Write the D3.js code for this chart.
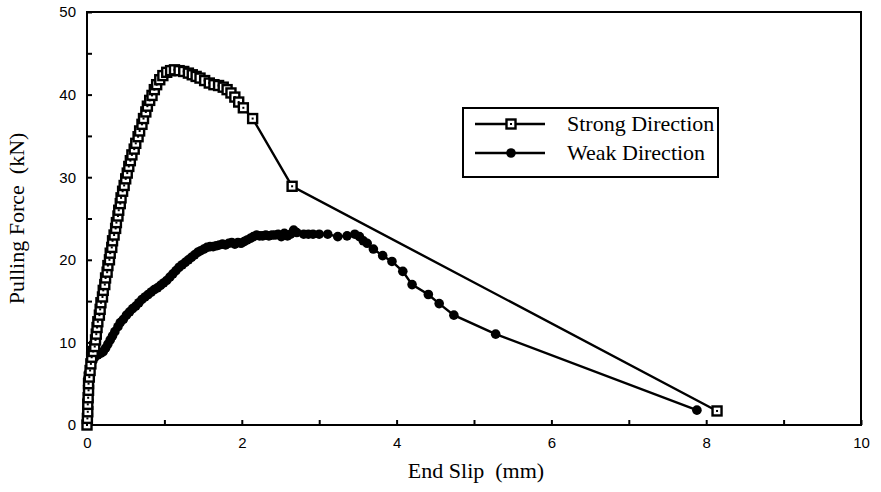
<!DOCTYPE html>
<html>
<head>
<meta charset="utf-8">
<script src="https://cdn.jsdelivr.net/npm/d3@7"></script>
<style>
  html, body { margin: 0; padding: 0; background: #fff; }
  svg { display: block; }
</style>
</head>
<body>
<div id="chart"></div>
<script>
// Pull-out test: pulling force vs end slip
const strongSlip = [0,0.005,0.01,0.01,0.015,0.02,0.02,0.03,0.04,0.05,0.06,0.08,
  0.10,0.11,0.12,0.13,0.14,0.16,0.17,0.18,0.20,0.21,0.23,0.24,0.26,0.27,0.29,0.30,0.32,0.33,0.35,0.37,0.38,0.40,0.41,0.43,0.44,0.46,0.48,0.50,0.52,0.54,0.56,0.58,0.61,0.63,0.66,0.68,0.71,0.73,0.76,0.78,0.81,0.84,0.87,0.90,0.94,0.98,1.03,1.08,1.13,1.19,1.25,1.31,1.36,1.41,1.46,1.52,1.58,1.64,1.70,1.76,1.81,1.86,1.91,1.96,2.02,2.14,2.65,8.14];
const strongForce = [0,0.8,1.6,2.5,3.3,4.2,5.0,5.8,6.6,7.4,8.2,8.9,
  9.5,10.3,11.0,11.8,12.5,13.3,14.0,14.8,15.5,16.3,17.0,17.8,18.5,19.3,20.0,20.8,21.5,22.3,23.0,23.8,24.5,25.3,26.0,26.8,27.5,28.3,29.0,29.8,30.5,31.3,32.0,32.7,33.4,34.1,34.9,35.6,36.4,37.1,37.9,38.6,39.3,39.9,40.6,41.2,41.8,42.3,42.7,42.9,43.0,42.9,42.8,42.6,42.4,42.2,42.0,41.7,41.4,41.2,41.1,40.9,40.6,40.2,39.7,39.1,38.4,37.1,28.9,1.7];

const weakSlip = [0,0,0,0.005,0.005,0.01,0.01,0.01,0.02,0.04,0.07,0.10,0.14,0.18,0.21,0.24,0.27,0.30,0.33,0.36,0.40,0.43,0.47,0.51,0.55,0.59,0.63,0.67,0.71,0.75,0.79,0.83,0.87,0.91,0.95,0.99,1.03,1.07,1.11,1.15,1.19,1.23,1.27,1.31,1.35,1.39,1.43,1.47,1.51,1.55,1.59,1.63,1.67,1.71,1.75,1.79,1.83,1.87,1.91,1.95,1.99,2.03,2.07,2.11,2.15,2.19,2.23,2.27,2.31,2.35,2.39,2.43,2.47,2.51,2.55,2.59,2.63,2.67,2.71,2.80,2.86,2.92,3.00,3.11,3.24,3.36,3.46,3.52,3.57,3.62,3.70,3.82,3.94,4.08,4.20,4.41,4.55,4.74,5.28,7.88];
const weakForce = [0,0.8,1.6,2.4,3.2,4.0,4.8,5.6,6.3,7.0,7.7,8.2,8.5,8.7,8.9,9.3,9.8,10.3,10.8,11.3,11.9,12.4,12.8,13.3,13.7,14.1,14.4,14.8,15.2,15.5,15.8,16.1,16.4,16.6,16.9,17.2,17.5,17.9,18.3,18.7,19.1,19.4,19.7,20.0,20.3,20.6,20.9,21.1,21.3,21.5,21.6,21.6,21.7,21.8,21.9,21.8,22.0,22.1,21.9,22.1,22.0,22.2,22.4,22.6,22.8,23.0,22.9,22.9,23.0,22.9,23.0,23.0,23.1,22.8,23.2,22.9,23.1,23.6,23.3,23.1,23.1,23.1,23.1,23.1,22.8,22.9,23.1,22.8,22.3,22.0,21.3,20.5,19.8,18.6,17.0,15.8,14.7,13.3,11.0,1.8];

const xTicks = [0,1,2,3,4,5,6,7,8,9,10];
const xLabels = [0,2,4,6,8,10];
const yTicks = [0,5,10,15,20,25,30,35,40,45,50];
const yLabels = [0,10,20,30,40,50];
const seriesNames = ["Strong Direction", "Weak Direction"];

const W = 881, H = 492;
const pLeft = 87, pRight = 861, pTop = 12, pBottom = 425;
const serif = "'Liberation Serif', 'Times New Roman', serif";
const sans = "'Liberation Sans', Arial, sans-serif";

const svg = d3.select("#chart").append("svg").attr("width", W).attr("height", H);

const x = d3.scaleLinear().domain([0, 10]).range([pLeft, pRight]);
const y = d3.scaleLinear().domain([0, 50]).range([pBottom, pTop]);

// plot frame
svg.append("rect").attr("x", pLeft).attr("y", pTop)
  .attr("width", pRight - pLeft).attr("height", pBottom - pTop)
  .attr("fill", "none").attr("stroke", "#000").attr("stroke-width", 2);

// axes with inward ticks
const xAxis = d3.axisBottom(x).tickValues(xTicks).tickSizeInner(-5).tickSizeOuter(0)
  .tickFormat(d => xLabels.includes(d) ? d : "");
const gx = svg.append("g").attr("transform", `translate(0,${pBottom})`).call(xAxis);
gx.select(".domain").remove();
gx.selectAll(".tick line").attr("stroke", "#000").attr("stroke-width", 2);
gx.selectAll(".tick text").attr("y", 12)
  .style("font-family", sans).style("font-size", "15px").attr("fill", "#000");

const yAxis = d3.axisLeft(y).tickValues(yTicks).tickSizeInner(-5).tickSizeOuter(0)
  .tickFormat(d => yLabels.includes(d) ? d : "");
const gy = svg.append("g").attr("transform", `translate(${pLeft},0)`).call(yAxis);
gy.select(".domain").remove();
gy.selectAll(".tick line").attr("stroke", "#000").attr("stroke-width", 2);
gy.selectAll(".tick text").attr("x", -11)
  .style("font-family", sans).style("font-size", "15px").attr("fill", "#000");

// axis titles
svg.append("text").attr("x", 476).attr("y", 478)
  .attr("text-anchor", "middle")
  .style("font-family", serif).style("font-size", "22px")
  .text("End Slip\u00a0 (mm)");
svg.append("text").attr("transform", `translate(24,${(pTop + pBottom) / 2}) rotate(-90)`)
  .attr("text-anchor", "middle")
  .style("font-family", serif).style("font-size", "22px")
  .text("Pulling Force\u00a0 (kN)");

const line = d3.line().x(d => x(d[0])).y(d => y(d[1]));
const strong = strongSlip.map((s, i) => [s, strongForce[i]]);
const weak = weakSlip.map((s, i) => [s, weakForce[i]]);

function squareMarker(g, cx, cy) {
  g.append("rect").attr("x", cx - 4.5).attr("y", cy - 4.5).attr("width", 9).attr("height", 9)
    .attr("fill", "#fff").attr("stroke", "#000").attr("stroke-width", 2.4);
  g.append("rect").attr("x", cx - 1).attr("y", cy - 1).attr("width", 2).attr("height", 2).attr("fill", "#000");
}
function dotMarker(g, cx, cy) {
  g.append("circle").attr("cx", cx).attr("cy", cy).attr("r", 4.8).attr("fill", "#000");
}

// weak direction series
svg.append("path").datum(weak).attr("d", line)
  .attr("fill", "none").attr("stroke", "#000").attr("stroke-width", 2.4);
const gw = svg.append("g");
weak.forEach(d => dotMarker(gw, x(d[0]), y(d[1])));

// strong direction series
svg.append("path").datum(strong).attr("d", line)
  .attr("fill", "none").attr("stroke", "#000").attr("stroke-width", 2.4);
const gs = svg.append("g");
strong.forEach(d => squareMarker(gs, x(d[0]), y(d[1])));

// legend
const lg = svg.append("g");
lg.append("rect").attr("x", 463).attr("y", 108).attr("width", 255).attr("height", 69)
  .attr("fill", "#fff").attr("stroke", "#000").attr("stroke-width", 2);
const rows = [124, 153];
seriesNames.forEach((name, i) => {
  const ry = rows[i];
  lg.append("line").attr("x1", 475).attr("x2", 545).attr("y1", ry).attr("y2", ry)
    .attr("stroke", "#000").attr("stroke-width", 2.4);
  if (i === 0) squareMarker(lg, 511, ry); else dotMarker(lg, 511, ry);
  lg.append("text").attr("x", 567).attr("y", ry + 7)
    .style("font-family", serif).style("font-size", "22px")
    .text(name);
});
</script>
</body>
</html>
